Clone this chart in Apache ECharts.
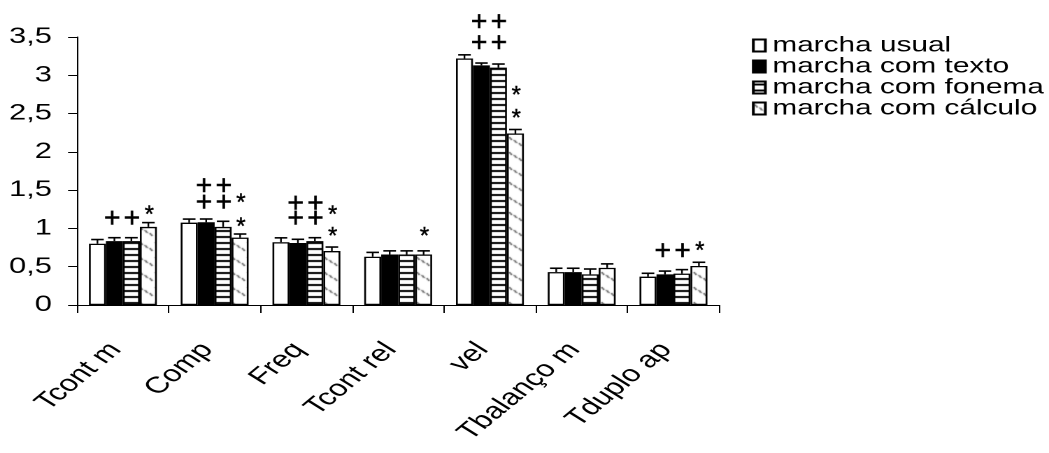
<!DOCTYPE html>
<html>
<head>
<meta charset="utf-8">
<script src="https://cdn.jsdelivr.net/npm/echarts@6/dist/echarts.min.js"></script>
<style>
html,body{margin:0;padding:0;background:#fff;overflow:hidden;width:1049px;height:453px;}
#chart{width:750px;height:453px;transform:scaleX(1.39867);transform-origin:0 0;}
</style>
</head>
<body>
<div id="chart"></div>
<script>
const categories = ['Tcont m','Comp','Freq','Tcont rel','vel','Tbalanço m','Tduplo ap'];
const seriesNames = ['marcha usual','marcha com texto','marcha com fonema','marcha com cálculo'];
const usual   = [0.80, 1.075, 0.82, 0.63, 3.22, 0.43, 0.37];
const texto   = [0.835, 1.08, 0.81, 0.66, 3.13, 0.43, 0.40];
const fonema  = [0.835, 1.02, 0.835, 0.66, 3.10, 0.40, 0.41];
const calculo = [1.02, 0.88, 0.705, 0.66, 2.24, 0.485, 0.51];
const errUsual   = [0.055, 0.047, 0.057, 0.057, 0.047, 0.05, 0.044];
const errTexto   = [0.044, 0.043, 0.048, 0.047, 0.030, 0.05, 0.043];
const errFonema  = [0.044, 0.073, 0.044, 0.047, 0.047, 0.07, 0.052];
const errCalculo = [0.056, 0.047, 0.052, 0.047, 0.052, 0.052, 0.048];
const yTicks = [0, 0.5, 1, 1.5, 2, 2.5, 3, 3.5];
// annotations: [categoryIndex, seriesIndex, yValue, text]
const annotations = [
  [0, 1, 1.12, '+'], [0, 2, 1.12, '+'], [0, 3, 1.235, '*'],
  [1, 1, 1.547, '+'], [1, 2, 1.547, '+'], [1, 1, 1.326, '+'], [1, 2, 1.326, '+'],
  [1, 3, 1.39, '*'], [1, 3, 1.08, '*'],
  [2, 1, 1.313, '+'], [2, 2, 1.313, '+'], [2, 1, 1.118, '+'], [2, 2, 1.118, '+'],
  [2, 3, 1.235, '*'], [2, 3, 0.953, '*'],
  [3, 3, 0.953, '*'],
  [4, 1, 3.684, '+'], [4, 2, 3.684, '+'], [4, 1, 3.411, '+'], [4, 2, 3.411, '+'],
  [4, 3, 2.796, '*'], [4, 3, 2.493, '*'],
  [6, 1, 0.693, '+'], [6, 2, 0.693, '+'], [6, 3, 0.767, '*']
];

const FONT = "'Liberation Sans', Arial, sans-serif";
const GAP = 0.26;
const SX = 1049 / 750;   // horizontal stretch of the page

function stripePattern(){
  const c = document.createElement('canvas'); c.width = 6; c.height = 6;
  const g = c.getContext('2d');
  g.fillStyle = '#fff'; g.fillRect(0,0,6,6);
  g.fillStyle = '#000'; g.fillRect(0,2,6,2);
  return c;
}
function diagPattern(){
  const c = document.createElement('canvas'); c.width = 11; c.height = 15;
  const g = c.getContext('2d');
  g.fillStyle = '#fff'; g.fillRect(0,0,11,15);
  g.strokeStyle = '#444'; g.lineWidth = 1.1;
  [[1,2],[4.5,5],[8,8]].forEach(p => {
    g.beginPath(); g.moveTo(p[0], p[1]); g.lineTo(p[0] + 2, p[1] + 3); g.stroke();
  });
  return c;
}

const values = [usual, texto, fonema, calculo];
const errs = [errUsual, errTexto, errFonema, errCalculo];
const fills = ['#ffffff', '#000000', {image: stripePattern(), repeat: 'repeat'}, {image: diagPattern(), repeat: 'repeat'}];

const errData = [];
values.forEach((arr, si) => arr.forEach((v, ci) => errData.push([ci, v, errs[si][ci], si])));

function barCenter(api, ci, si, v){
  const pt = api.coord([ci, v]);
  const bw = api.size([1, 0])[0];
  const barW = bw * (1 - GAP) / 4;
  return [pt[0] - 2 * barW + (si + 0.5) * barW, pt[1]];
}

const series = values.map((arr, si) => ({
  name: seriesNames[si],
  type: 'bar',
  data: arr,
  barGap: '0%',
  barCategoryGap: (GAP * 100) + '%',
  itemStyle: {color: fills[si], borderColor: '#000', borderWidth: 1.3},
  emphasis: {disabled: true},
  z: 2
}));

series.push({
  type: 'custom',
  name: 'err',
  data: errData,
  z: 5,
  silent: true,
  renderItem: function(params, api){
    const ci = api.value(0), v = api.value(1), e = api.value(2), si = api.value(3);
    const base = barCenter(api, ci, si, v);
    const top = api.coord([ci, v + e])[1];
    const cap = 4.5;
    return {
      type: 'group',
      children: [
        {type: 'line', shape: {x1: base[0], y1: base[1], x2: base[0], y2: top}, style: {stroke: '#000', lineWidth: 1.2}},
        {type: 'line', shape: {x1: base[0] - cap, y1: top, x2: base[0] + cap, y2: top}, style: {stroke: '#000', lineWidth: 1.6}}
      ]
    };
  }
});

series.push({
  type: 'custom',
  name: 'ann',
  data: annotations,
  z: 6,
  silent: true,
  clip: false,
  renderItem: function(params, api){
    const ci = api.value(0), si = api.value(1), y = api.value(2);
    const txt = annotations[params.dataIndex][3];
    const p = barCenter(api, ci, si, y);
    const isPlus = txt === '+';
    const dx = isPlus ? (si === 1 ? -1.6 : 0.4) : 0.6;
    return {
      type: 'text',
      x: p[0] + dx,
      y: p[1] + (isPlus ? 0 : 5),
      scaleX: 1 / SX,
      style: {
        text: txt,
        fontFamily: FONT,
        fontSize: isPlus ? 28 : 24,
        fill: '#000',
        stroke: '#000',
        lineWidth: isPlus ? 0.6 : 0.4,
        align: 'center',
        verticalAlign: 'middle'
      }
    };
  }
});

const chart = echarts.init(document.getElementById('chart'), null, {renderer: 'canvas', devicePixelRatio: 2, width: 750, height: 453});
chart.setOption({
  animation: false,
  backgroundColor: '#fff',
  textStyle: {fontFamily: FONT},
  grid: {left: 55.05, right: 235.7, top: 37, bottom: 148, containLabel: false},
  legend: {
    data: seriesNames,
    orient: 'vertical',
    left: 537.6,
    top: 35,
    padding: 0,
    icon: 'rect',
    itemWidth: 8.6,
    itemHeight: 12,
    itemGap: 0,
    selectedMode: false,
    textStyle: {fontFamily: FONT, fontSize: 21.3, color: '#000', lineHeight: 21}
  },
  xAxis: {
    type: 'category',
    data: categories,
    axisLine: {lineStyle: {color: '#000', width: 1}},
    axisTick: {show: true, length: 8, lineStyle: {color: '#000'}},
    axisLabel: {rotate: 49, fontSize: 23, color: '#000', margin: 35, interval: 0, fontFamily: FONT, padding: [0, 8, 0, 0]}
  },
  yAxis: {
    type: 'value',
    min: yTicks[0],
    max: yTicks[yTicks.length - 1],
    interval: 0.5,
    axisLine: {show: true, lineStyle: {color: '#000', width: 1}},
    axisTick: {show: true, length: 6.4, lineStyle: {color: '#000'}},
    splitLine: {show: false},
    axisLabel: {fontSize: 22, color: '#000', margin: 18, fontFamily: FONT,
      formatter: v => String(v).replace('.', ',')}
  },
  series: series
});
</script>
</body>
</html>
